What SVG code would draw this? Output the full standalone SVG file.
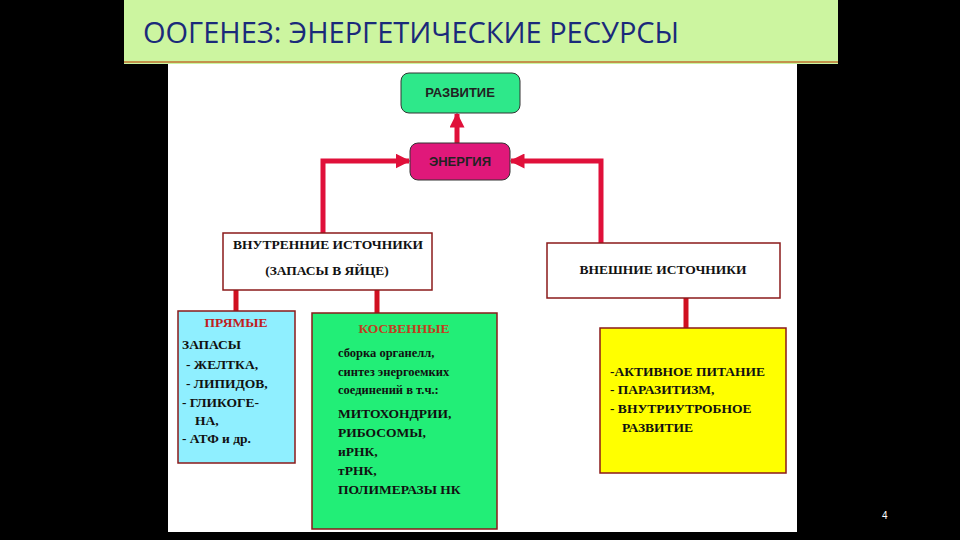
<svg xmlns="http://www.w3.org/2000/svg" width="960" height="540" viewBox="0 0 960 540">
<defs>
<marker id="ah" viewBox="0 0 10 10" refX="9" refY="5" markerWidth="3" markerHeight="3" orient="auto"><path d="M0,0 L10,5 L0,10 z" fill="#e0103a"/></marker>
<style>
.t{font-family:"Liberation Serif",serif;font-weight:bold;font-size:13.5px;fill:#111}
.s{font-family:"Liberation Sans",sans-serif;font-weight:bold;font-size:13px;fill:#222}
.c{fill:none;stroke:#d01020;stroke-width:5}
.a{fill:none;stroke:#e0103a;stroke-width:5;marker-end:url(#ah)}
.b{stroke:#8b1a1a;stroke-width:1.5}
</style>
</defs>
<rect width="960" height="540" fill="#000"/>
<rect x="124" y="0" width="714" height="64" fill="#ccf5a0"/>
<line x1="124" y1="62" x2="838" y2="62" stroke="#c07030" stroke-width="1.5"/>
<text x="143" y="43" font-family="'Open Sans','Noto Sans',sans-serif" font-size="29" fill="#1a2a7a">ООГЕНЕЗ: ЭНЕРГЕТИЧЕСКИЕ РЕСУРСЫ</text>
<rect x="168" y="64" width="629" height="468" fill="#fff"/>
<text x="882" y="519" font-family="'Liberation Sans',sans-serif" font-size="10" fill="#fff">4</text>
<g id="connectors">
<path class="a" d="M457,143 V114"/>
<path class="a" d="M323,233 V161 H409"/>
<path class="a" d="M601,243 V161 H511"/>
<path class="c" d="M236,290 V311"/>
<path class="c" d="M377,290 V313"/>
<path class="c" d="M686,298 V328"/>
</g>
<g id="razvitie"><rect x="401" y="73" width="119" height="40" rx="8" fill="#2ee88a" stroke="#333"/><text class="s" x="460" y="97" text-anchor="middle">РАЗВИТИЕ</text></g>
<g id="energiya"><rect x="410" y="143" width="100" height="37" rx="8" fill="#e0187a" stroke="#333"/><text class="s" x="460" y="166" text-anchor="middle">ЭНЕРГИЯ</text></g>
<g id="vnutr"><rect x="223" y="233" width="209" height="57" fill="#fff" class="b"/><text class="t" x="233" y="249">ВНУТРЕННИЕ   ИСТОЧНИКИ</text><text class="t" x="327" y="275" text-anchor="middle">(ЗАПАСЫ В ЯЙЦЕ)</text></g>
<g id="vnesh"><rect x="547" y="243" width="233" height="55" fill="#fff" class="b"/><text class="t" x="663" y="274" text-anchor="middle">ВНЕШНИЕ ИСТОЧНИКИ</text></g>
<g id="pryamye"><rect x="178" y="311" width="117" height="152" fill="#8fefff" class="b"/>
<text class="t" x="236" y="327" text-anchor="middle" style="fill:#c02020">ПРЯМЫЕ</text>
<text class="t" x="182" y="349">ЗАПАСЫ</text><text class="t" x="186" y="369">- ЖЕЛТКА,</text><text class="t" x="186" y="388">- ЛИПИДОВ,</text><text class="t" x="182" y="407">- ГЛИКОГЕ-</text><text class="t" x="195" y="425">НА,</text><text class="t" x="182" y="443">- АТФ и др.</text></g>
<g id="kosvennye"><rect x="312" y="313" width="185" height="216" fill="#22ee77" class="b"/>
<text class="t" x="404" y="333" text-anchor="middle" style="fill:#c04020">КОСВЕННЫЕ</text>
<text class="t" x="338" y="357" style="font-size:12.5px">сборка органелл,</text><text class="t" x="338" y="376" style="font-size:12.5px">синтез энергоемких</text><text class="t" x="338" y="394" style="font-size:12.5px">соединений в т.ч.:</text>
<text class="t" x="338" y="418">МИТОХОНДРИИ,</text><text class="t" x="338" y="437">РИБОСОМЫ,</text><text class="t" x="338" y="456">иРНК,</text><text class="t" x="338" y="475">тРНК,</text><text class="t" x="338" y="494">ПОЛИМЕРАЗЫ НК</text></g>
<g id="vneshnie"><rect x="600" y="328" width="186" height="145" fill="#ffff00" class="b"/>
<text class="t" x="610" y="376">-АКТИВНОЕ ПИТАНИЕ</text><text class="t" x="610" y="394">- ПАРАЗИТИЗМ,</text><text class="t" x="610" y="413">- ВНУТРИУТРОБНОЕ</text><text class="t" x="622" y="432">РАЗВИТИЕ</text></g>
</svg>
